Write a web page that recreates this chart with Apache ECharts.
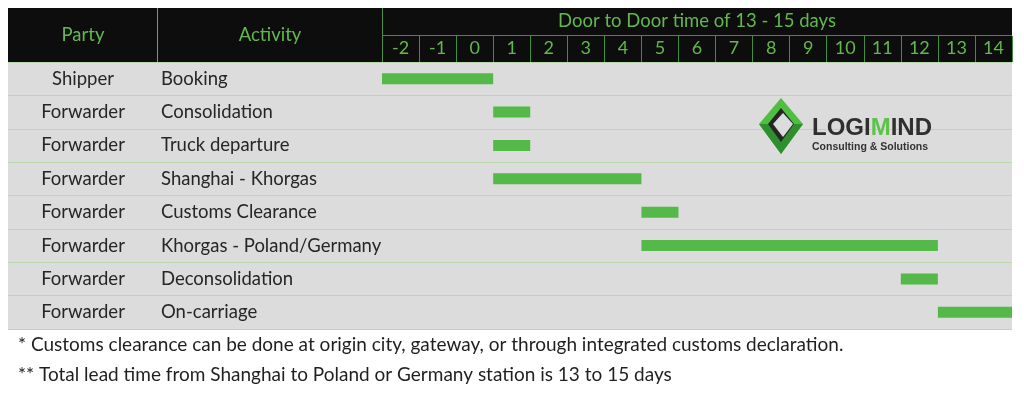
<!DOCTYPE html>
<html><head><meta charset="utf-8">
<script src="https://cdn.jsdelivr.net/npm/echarts@6/dist/echarts.min.js"></script>
<style>html,body{margin:0;padding:0;background:#fff}#c{width:1024px;height:394px}</style>
</head><body><div id="c"></div>
<script>
const parties = ['Shipper','Forwarder','Forwarder','Forwarder','Forwarder','Forwarder','Forwarder','Forwarder'];
const activities = ['Booking','Consolidation','Truck departure','Shanghai - Khorgas','Customs Clearance','Khorgas - Poland/Germany','Deconsolidation','On-carriage'];
const startDay = [-2, 1, 1, 1, 5, 5, 12, 13];
const endDay   = [ 1, 2, 2, 5, 6, 13, 13, 15];
const dayLabels = ['-2','-1','0','1','2','3','4','5','6','7','8','9','10','11','12','13','14'];
const headerTitle = 'Door to Door time of 13 - 15 days';
const notes = ['* Customs clearance can be done at origin city, gateway, or through integrated customs declaration.',
               '** Total lead time from Shanghai to Poland or Germany station is 13 to 15 days'];

const FONT = 'Lato';
const GREEN_TXT = '#62b84e';
const BAR = '#55b949';
const SEP = '#b9d8ac';
const chart = echarts.init(document.getElementById('c'), null, {renderer:'canvas'});
const ganttData = activities.map((a,i)=>[i, startDay[i], endDay[i]]);

const option = {
  animation:false,
  backgroundColor:'#ffffff',
  textStyle:{fontFamily:FONT},
  grid:[
    {left:8, top:62, width:374, height:267, show:true, backgroundColor:'#dcdcdc', borderWidth:0},
    {left:382, top:62, width:630, height:267, show:true, backgroundColor:'#dcdcdc', borderWidth:0}
  ],
  xAxis:[
    {gridIndex:0, type:'value', min:0, max:1, show:false},
    {gridIndex:1, type:'value', min:-2, max:15, interval:1, show:false},
    {gridIndex:1, type:'category', data:dayLabels, position:'top', boundaryGap:true,
     axisLine:{show:false},
     axisTick:{show:true, length:26, lineStyle:{color:'#3f8f3a', width:1}},
     axisLabel:{color:GREEN_TXT, fontSize:18, fontFamily:FONT, margin:5, interval:0},
     splitLine:{show:false}}
  ],
  yAxis:[
    {gridIndex:0, type:'category', data:parties, inverse:true, position:'left',
     axisLine:{show:false}, axisTick:{show:false},
     axisLabel:{inside:true, align:'center', margin:75, color:'#262626', fontSize:18.5, fontFamily:FONT, interval:0},
     splitLine:{show:true, lineStyle:{color:SEP, width:1}}},
    {gridIndex:0, type:'category', data:activities, inverse:true, position:'left',
     axisLine:{show:false}, axisTick:{show:false},
     axisLabel:{inside:true, align:'left', margin:153, color:'#262626', fontSize:18.5, fontFamily:FONT, interval:0},
     splitLine:{show:false}},
    {gridIndex:1, type:'category', data:activities, inverse:true,
     axisLine:{show:false}, axisTick:{show:false}, axisLabel:{show:false},
     splitLine:{show:true, lineStyle:{color:SEP, width:1}}}
  ],
  series:[{
    type:'custom', xAxisIndex:1, yAxisIndex:2, data:ganttData,
    encode:{x:[1,2], y:0},
    renderItem:function(params, api){
      const row = api.value(0);
      const s = api.coord([api.value(1), row]);
      const e = api.coord([api.value(2), row]);
      const h = 11;
      return {type:'rect', shape:{x:s[0], y:s[1]-h/2, width:e[0]-s[0], height:h}, style:{fill:BAR}};
    }
  }],
  graphic:[
    {type:'rect', z:-1, shape:{x:8, y:8, width:1004, height:54}, style:{fill:'#0d0d0d'}},
    {type:'line', z:5, shape:{x1:157.5, y1:8, x2:157.5, y2:62}, style:{stroke:'#8a8a8a', lineWidth:1}},
    {type:'line', z:5, shape:{x1:382.5, y1:8, x2:382.5, y2:62}, style:{stroke:'#4f8f48', lineWidth:1}},
    {type:'line', z:5, shape:{x1:382, y1:35.5, x2:1012, y2:35.5}, style:{stroke:'#3f8f3a', lineWidth:1}},
    {type:'text', z:6, style:{text:'Party', x:83, y:35, align:'center', verticalAlign:'middle', fill:GREEN_TXT, font:'18.5px '+FONT}},
    {type:'text', z:6, style:{text:'Activity', x:270, y:35, align:'center', verticalAlign:'middle', fill:GREEN_TXT, font:'18.5px '+FONT}},
    {type:'text', z:6, style:{text:headerTitle, x:697, y:21, align:'center', verticalAlign:'middle', fill:GREEN_TXT, font:'18.5px '+FONT}},
    {type:'text', z:6, style:{text:notes[0], x:18, y:345, align:'left', verticalAlign:'middle', fill:'#1f1f1f', font:'19px '+FONT}},
    {type:'text', z:6, style:{text:notes[1], x:18, y:375, align:'left', verticalAlign:'middle', fill:'#1f1f1f', font:'19px '+FONT}},
    // logo
    {type:'polygon', z:6, shape:{points:[[781,98],[803,124],[781,154],[759,124]]}, style:{fill:'#4fbf3f'}},
    {type:'polygon', z:7, shape:{points:[[759,124],[781,154],[803,124],[790,124],[781,136],[770,124]]}, style:{fill:'#2f8f2f'}},
    {type:'polygon', z:8, shape:{points:[[781,108],[794,124],[781,142],[768,124]]}, style:{fill:'#262626'}},
    {type:'polygon', z:9, shape:{points:[[783,113],[793,124],[783,137],[773,124]]}, style:{fill:'#dcdcdc'}},
    {type:'text', z:6, style:{text:'{d|LOGI}{g|M}{d|IND}', x:812, y:128, align:'left', verticalAlign:'middle',
      rich:{d:{fill:'#2f2f2f', font:'bold 24px "Liberation Sans"'}, g:{fill:'#5cc24a', font:'bold 24px "Liberation Sans"'}}}},
    {type:'text', z:6, style:{text:'Consulting & Solutions', x:812, y:147, align:'left', verticalAlign:'middle', fill:'#333', font:'bold 10.5px "Liberation Sans"'}}
  ]
};
chart.setOption(option);
</script></body></html>
